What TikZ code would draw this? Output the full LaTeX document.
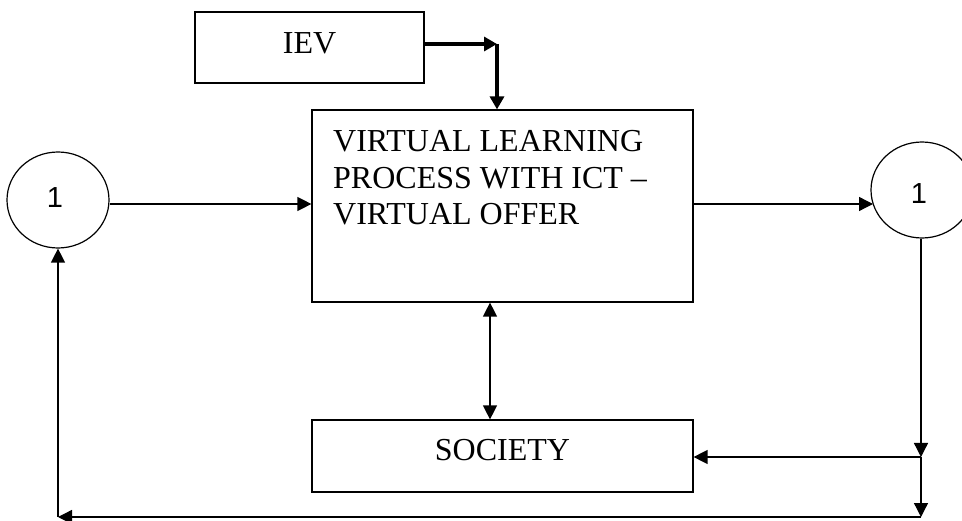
\documentclass[tikz,border=0pt]{standalone}
\usepackage{fontspec}
\setmainfont{Liberation Serif}
\newfontfamily\digitfont{Liberation Sans}
\usetikzlibrary{arrows.meta,shapes.geometric}
\begin{document}
\begin{tikzpicture}[x=1pt,y=-1pt,
  box/.style={draw, line width=1.2pt, rectangle, inner sep=0pt},
  ring/.style={draw, line width=1.2pt, ellipse, inner sep=0pt, minimum width=102pt, minimum height=96pt},
  lbl/.style={inner sep=0pt, font=\fontsize{32}{36.5}\selectfont},
  num/.style={inner sep=0pt, font=\digitfont\fontsize{29}{32}\selectfont},
  conn/.style={line width=1.3pt, -{Triangle[length=14pt,width=14pt]}},
  conn2/.style={line width=1.3pt, {Triangle[length=14pt,width=14pt]}-{Triangle[length=14pt,width=14pt]}},
  thickconn/.style={line width=3.2pt, -{Triangle[length=13pt,width=14pt]}}]
\useasboundingbox (0,0) rectangle (962,521);
% boxes
\node[box, minimum width=229pt, minimum height=71pt] (iev) at (309.5,47.5) {};
\node[lbl] (ievtext) at (309.5,43.5) {IEV};
\node[box, minimum width=381pt, minimum height=192pt] (main) at (502.5,206) {};
\node[lbl, anchor=base west, align=left] (maintext) at (333,225) {VIRTUAL LEARNING\\PROCESS WITH ICT –\\VIRTUAL OFFER};
\node[box, minimum width=381pt, minimum height=72pt] (society) at (502.5,456) {};
\node[lbl] (societytext) at (502.5,450) {SOCIETY};
% circles
\node[ring] (c1) at (58,200) {};
\node[num] (c1text) at (55,198) {1};
\node[ring] (c2) at (922,190) {};
\node[num] (c2text) at (919,194) {1};
% helper coordinates
\coordinate (k) at (497,44);
\coordinate (j1) at (921,457);
\coordinate (j2) at (921,517);
\coordinate (j3) at (58,517);
% thick arrow from IEV
\draw[thickconn] (iev.east |- k) -- (k);
\draw[thickconn] (k) -- (k |- main.north);
% horizontal flows
\draw[conn] ([yshift=-4pt]c1.east) -- ([yshift=-4pt]c1.east -| main.west);
\draw[conn] (main.east |- 0,204) -- (873,204);
% society double arrow
\draw[conn2] ([xshift=-12.5pt]main.south) -- ([xshift=-12.5pt]society.north);
% feedback loop
\draw[conn] (c2.south -| j1) -- (j1);
\draw[conn] (j1) -- (j2);
\draw[conn] (j1) -- (j1 -| society.east);
\draw[conn] (j2) -- (j3);
\draw[conn] (j3) -- (c1.south);
\end{tikzpicture}
\end{document}
